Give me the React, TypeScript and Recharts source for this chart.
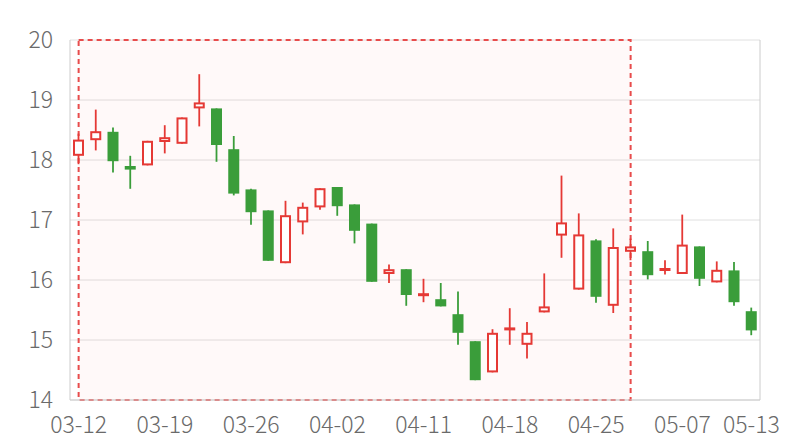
import React from 'react';
import { ComposedChart, Bar, XAxis, YAxis, CartesianGrid, ReferenceArea } from 'recharts';

const dates = [
  '03-12', '03-13', '03-14', '03-15', '03-18', '03-19', '03-20', '03-21', '03-22', '03-25',
  '03-26', '03-27', '03-28', '03-29', '04-01', '04-02', '04-03', '04-08', '04-09', '04-10',
  '04-11', '04-12', '04-15', '04-16', '04-17', '04-18', '04-19', '04-22', '04-23', '04-24',
  '04-25', '04-26', '04-29', '04-30', '05-06', '05-07', '05-08', '05-09', '05-10', '05-13',
];
const openVals = [
  18.07, 18.33, 18.47, 17.90, 17.91, 18.30, 18.27, 18.86, 18.86, 18.18,
  17.51, 17.16, 16.28, 16.96, 17.21, 17.55, 17.26, 16.94, 16.10, 16.18,
  15.76, 15.68, 15.43, 14.98, 14.46, 15.18, 14.92, 15.46, 16.74, 15.84,
  16.66, 15.57, 16.47, 16.48, 16.16, 16.10, 16.56, 15.96, 16.16, 15.48,
];
const closeVals = [
  18.34, 18.48, 17.98, 17.84, 18.32, 18.38, 18.71, 18.96, 18.25, 17.44,
  17.13, 16.32, 17.08, 17.22, 17.53, 17.23, 16.82, 15.97, 16.18, 15.75,
  15.78, 15.56, 15.12, 14.33, 15.12, 15.21, 15.12, 15.56, 16.96, 16.76,
  15.72, 16.55, 16.56, 16.08, 16.20, 16.59, 16.02, 16.17, 15.63, 15.16,
];
const lowVals = [
  17.93, 18.16, 17.79, 17.52, 17.91, 18.11, 18.27, 18.56, 17.97, 17.41,
  16.92, 16.32, 16.28, 16.76, 17.17, 17.07, 16.61, 15.97, 15.95, 15.57,
  15.63, 15.56, 14.92, 14.33, 14.46, 14.92, 14.69, 15.46, 16.37, 15.84,
  15.62, 15.45, 16.33, 16.01, 16.09, 16.10, 15.90, 15.96, 15.57, 15.08,
];
const highVals = [
  18.44, 18.84, 18.54, 18.07, 18.32, 18.58, 18.71, 19.43, 18.86, 18.40,
  17.52, 17.16, 17.32, 17.29, 17.53, 17.55, 17.26, 16.94, 16.26, 16.18,
  16.02, 15.95, 15.81, 14.98, 15.18, 15.53, 15.30, 16.11, 17.74, 17.11,
  16.68, 16.86, 16.69, 16.65, 16.33, 17.09, 16.56, 16.31, 16.30, 15.54,
];
const tickIndex = [0, 5, 10, 15, 20, 25, 30, 35, 39];
const yTicks = [14, 15, 16, 17, 18, 19, 20];
const markStart = 0;
const markEnd = 32;

const RED = '#e53935';
const GREEN = '#3a9d3a';

const data = dates.map((d, i) => ({
  i,
  date: d,
  open: openVals[i],
  close: closeVals[i],
  low: lowVals[i],
  high: highVals[i],
  range: [lowVals[i], highVals[i]],
}));

const Candle = (props: any) => {
  const { x, y, width, height, payload } = props;
  if (!payload) return null;
  const { open, close, high, low } = payload;
  const top = Math.min(y, y + height);
  const h = Math.abs(height);
  const px = (v: number) => (high === low ? top : top + ((high - v) / (high - low)) * h);
  const cx = x + width / 2;
  const up = close >= open;
  const color = up ? RED : GREEN;
  const bTop = px(Math.max(open, close));
  const bBot = px(Math.min(open, close));
  if (up) {
    const sw = 2;
    const bh = Math.max(bBot - bTop - sw, 1);
    return (
      <g>
        <line x1={cx} x2={cx} y1={top} y2={top + h} stroke={color} strokeWidth={1.8} />
        <rect x={x + sw / 2} y={bTop + sw / 2} width={width - sw} height={bh} fill="#ffffff" stroke={color} strokeWidth={sw} />
      </g>
    );
  }
  const bh = Math.max(bBot - bTop, 2);
  return (
    <g>
      <line x1={cx} x2={cx} y1={top} y2={top + h} stroke={color} strokeWidth={1.8} />
      <rect x={x} y={bTop} width={width} height={bh} fill={color} stroke="none" />
    </g>
  );
};

const tickStyle = { fill: '#6a6a6a', fontSize: 23, fontWeight: 300, fontFamily: '"Noto Sans CJK SC", sans-serif' };

export default function App() {
  return (
    <div style={{ position: 'absolute', left: 0, top: 0 }}>
      <ComposedChart width={800} height={440} data={data} margin={{ top: 40, right: 0, bottom: 0, left: 0 }}>
        <CartesianGrid vertical={false} stroke="#e0e0e0" />
        <XAxis
          dataKey="i"
          type="number"
          domain={[-0.5, 39.5]}
          ticks={tickIndex}
          tickFormatter={(v: number) => dates[v]}
          interval={0}
          height={40}
          tickLine={false}
          axisLine={{ stroke: '#cccccc' }}
          tick={tickStyle}
          tickMargin={11}
        />
        <YAxis
          type="number"
          domain={[14, 20]}
          ticks={yTicks}
          width={70}
          tickLine={false}
          axisLine={{ stroke: '#cccccc' }}
          tick={tickStyle}
          tickMargin={11}
        />
        <YAxis
          yAxisId="r"
          orientation="right"
          type="number"
          domain={[14, 20]}
          width={40}
          tick={false}
          tickLine={false}
          axisLine={{ stroke: '#cccccc' }}
        />
        <ReferenceArea
          x1={markStart}
          x2={markEnd}
          y1={14}
          y2={20}
          fill="#ff0000"
          fillOpacity={0.025}
          stroke="#e84c4c"
          strokeWidth={2}
          strokeDasharray="5 4"
        />
        <Bar dataKey="range" barSize={11} shape={Candle} isAnimationActive={false} />
      </ComposedChart>
    </div>
  );
}
